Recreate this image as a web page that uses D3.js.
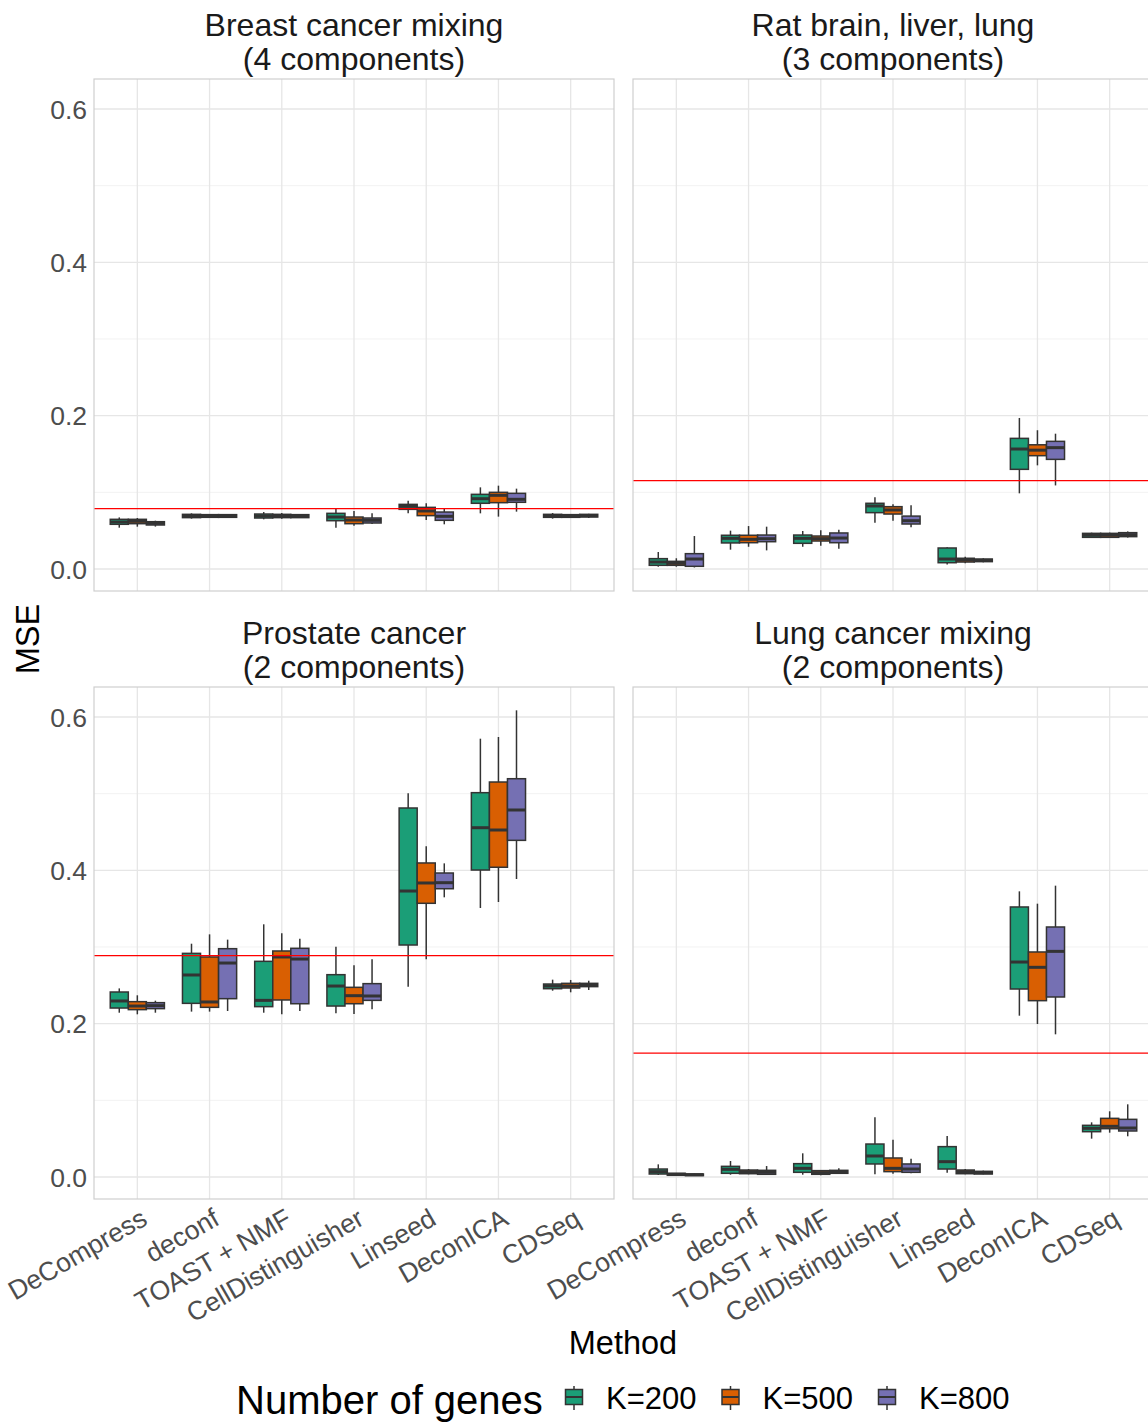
<!DOCTYPE html>
<html>
<head>
<meta charset="utf-8">
<script src="https://cdn.jsdelivr.net/npm/d3@7"></script>
<style>
  html, body { margin: 0; padding: 0; background: #ffffff; }
  svg text { font-family: "Liberation Sans", Arial, Helvetica, sans-serif; }
</style>
</head>
<body>
<svg id="chart" width="1148" height="1424"></svg>
<script>
// Deconvolution methods compared on the x axis
const methods = ["DeCompress", "deconf", "TOAST + NMF", "CellDistinguisher", "Linseed", "DeconICA", "CDSeq"];
// Number of genes used (one box per setting)
const geneSets = ["K=200", "K=500", "K=800"];
const geneColors = ["#1B9E77", "#D95F02", "#7570B3"];

const panelTitles = [
  ["Breast cancer mixing", "(4 components)"],
  ["Rat brain, liver, lung", "(3 components)"],
  ["Prostate cancer", "(2 components)"],
  ["Lung cancer mixing", "(2 components)"]
];

const yTicks = [0, 0.2, 0.4, 0.6];
const yMinorTicks = [0.1, 0.3, 0.5];

// Reference MSE level drawn as a red horizontal line in each panel
const referenceMSE = [0.0787, 0.1152, 0.2887, 0.1617];

// Box statistics per method, per gene setting: [lower whisker, Q1, median, Q3, upper whisker]
const breastStats = [
  [[0.0539, 0.0583, 0.0613, 0.0648, 0.0673], [0.0552, 0.0591, 0.0622, 0.0648, 0.0665], [0.0553, 0.0574, 0.0596, 0.0617, 0.0630]],
  [[0.0657, 0.0670, 0.0691, 0.0713, 0.0726], [0.0665, 0.0674, 0.0691, 0.0709, 0.0717], [0.0665, 0.0674, 0.0691, 0.0709, 0.0717]],
  [[0.0648, 0.0665, 0.0691, 0.0717, 0.0743], [0.0657, 0.0670, 0.0691, 0.0713, 0.0730], [0.0665, 0.0670, 0.0687, 0.0709, 0.0717]],
  [[0.0539, 0.0630, 0.0678, 0.0726, 0.0783], [0.0565, 0.0591, 0.0639, 0.0678, 0.0757], [0.0587, 0.0600, 0.0635, 0.0665, 0.0726]],
  [[0.0726, 0.0778, 0.0817, 0.0843, 0.0891], [0.0639, 0.0696, 0.0757, 0.0804, 0.0857], [0.0583, 0.0635, 0.0687, 0.0743, 0.0787]],
  [[0.0726, 0.0857, 0.0917, 0.0974, 0.1065], [0.0683, 0.0865, 0.0961, 0.1000, 0.1087], [0.0748, 0.0870, 0.0909, 0.0987, 0.1048]],
  [[0.0657, 0.0674, 0.0696, 0.0713, 0.0730], [0.0665, 0.0674, 0.0691, 0.0709, 0.0717], [0.0665, 0.0678, 0.0696, 0.0713, 0.0720]]
];

const ratStats = [
  [[0.0030, 0.0048, 0.0091, 0.0135, 0.0222], [0.0030, 0.0048, 0.0074, 0.0100, 0.0140], [0.0020, 0.0035, 0.0130, 0.0200, 0.0430]],
  [[0.0252, 0.0340, 0.0400, 0.0440, 0.0500], [0.0290, 0.0343, 0.0387, 0.0440, 0.0560], [0.0243, 0.0356, 0.0395, 0.0443, 0.0552]],
  [[0.0290, 0.0335, 0.0400, 0.0443, 0.0496], [0.0304, 0.0365, 0.0396, 0.0430, 0.0504], [0.0265, 0.0343, 0.0404, 0.0470, 0.0513]],
  [[0.0604, 0.0735, 0.0822, 0.0857, 0.0935], [0.0630, 0.0717, 0.0770, 0.0813, 0.0843], [0.0543, 0.0587, 0.0630, 0.0690, 0.0830]],
  [[0.0060, 0.0082, 0.0130, 0.0274, 0.0283], [0.0074, 0.0091, 0.0117, 0.0140, 0.0160], [0.0087, 0.0096, 0.0113, 0.0130, 0.0140]],
  [[0.0987, 0.1300, 0.1565, 0.1704, 0.1970], [0.1352, 0.1478, 0.1550, 0.1620, 0.1810], [0.1090, 0.1430, 0.1583, 0.1665, 0.1765]],
  [[0.0404, 0.0413, 0.0440, 0.0465, 0.0474], [0.0404, 0.0413, 0.0440, 0.0465, 0.0474], [0.0410, 0.0422, 0.0448, 0.0474, 0.0490]]
];

const prostateStats = [
  [[0.2143, 0.2204, 0.2296, 0.2413, 0.2460], [0.2122, 0.2183, 0.2230, 0.2287, 0.2370], [0.2143, 0.2196, 0.2235, 0.2274, 0.2300]],
  [[0.2157, 0.2265, 0.2635, 0.2917, 0.3043], [0.2157, 0.2213, 0.2283, 0.2870, 0.3165], [0.2165, 0.2326, 0.2791, 0.2978, 0.3096]],
  [[0.2143, 0.2222, 0.2304, 0.2813, 0.3296], [0.2122, 0.2309, 0.2870, 0.2948, 0.3178], [0.2165, 0.2260, 0.2843, 0.2983, 0.3109]],
  [[0.2135, 0.2230, 0.2491, 0.2639, 0.3004], [0.2126, 0.2260, 0.2365, 0.2474, 0.2761], [0.2187, 0.2304, 0.2361, 0.2522, 0.2839]],
  [[0.2483, 0.3026, 0.3730, 0.4813, 0.5004], [0.2839, 0.3570, 0.3835, 0.4096, 0.4313], [0.3648, 0.3760, 0.3839, 0.3965, 0.4091]],
  [[0.3509, 0.4004, 0.4556, 0.5013, 0.5717], [0.3587, 0.4040, 0.4526, 0.5152, 0.5739], [0.3887, 0.4391, 0.4787, 0.5195, 0.6087]],
  [[0.2430, 0.2456, 0.2491, 0.2517, 0.2574], [0.2409, 0.2465, 0.2491, 0.2526, 0.2570], [0.2439, 0.2483, 0.2504, 0.2526, 0.2560]]
];

const lungStats = [
  [[0.0026, 0.0039, 0.0070, 0.0104, 0.0165], [0.0018, 0.0022, 0.0035, 0.0048, 0.0052], [0.0013, 0.0018, 0.0030, 0.0039, 0.0043]],
  [[0.0030, 0.0048, 0.0100, 0.0139, 0.0209], [0.0035, 0.0043, 0.0070, 0.0091, 0.0104], [0.0026, 0.0035, 0.0061, 0.0087, 0.0143]],
  [[0.0030, 0.0061, 0.0113, 0.0174, 0.0309], [0.0022, 0.0035, 0.0057, 0.0083, 0.0091], [0.0039, 0.0048, 0.0070, 0.0087, 0.0113]],
  [[0.0035, 0.0170, 0.0274, 0.0430, 0.0778], [0.0043, 0.0070, 0.0113, 0.0248, 0.0487], [0.0048, 0.0061, 0.0104, 0.0170, 0.0239]],
  [[0.0057, 0.0104, 0.0200, 0.0396, 0.0535], [0.0035, 0.0043, 0.0070, 0.0091, 0.0104], [0.0035, 0.0039, 0.0057, 0.0074, 0.0083]],
  [[0.2104, 0.2452, 0.2804, 0.3522, 0.3726], [0.1996, 0.2300, 0.2735, 0.2935, 0.3565], [0.1861, 0.2348, 0.2943, 0.3261, 0.3800]],
  [[0.0500, 0.0591, 0.0635, 0.0674, 0.0713], [0.0578, 0.0630, 0.0661, 0.0765, 0.0857], [0.0531, 0.0600, 0.0639, 0.0752, 0.0948]]
];

const panelStats = [breastStats, ratStats, prostateStats, lungStats];

// ---- layout ----
const svg = d3.select("#chart");
const panelW = 520, panelH = 512;
const panelOrigins = [[94, 79], [633, 79], [94, 687], [633, 687]];

const x = d3.scalePoint().domain(methods).range([0, panelW]).padding(0.6);
const y = d3.scaleLinear().domain([-22 / 766.67, 490 / 766.67]).range([panelH, 0]);
const boxW = x.step() * 0.75 / geneSets.length;

const defs = svg.append("defs");

panelStats.forEach((stats, p) => {
  const [px, py] = panelOrigins[p];
  const g = svg.append("g").attr("transform", `translate(${px},${py})`);

  defs.append("clipPath").attr("id", "clip" + p)
    .append("rect").attr("width", panelW).attr("height", panelH);

  const inner = g.append("g").attr("clip-path", `url(#clip${p})`);

  // grid
  inner.selectAll(".gmin").data(yMinorTicks).join("line")
    .attr("x1", 0).attr("x2", panelW)
    .attr("y1", d => y(d)).attr("y2", d => y(d))
    .attr("stroke", "#f0f0f0").attr("stroke-width", 0.9);
  inner.selectAll(".gmaj").data(yTicks).join("line")
    .attr("x1", 0).attr("x2", panelW)
    .attr("y1", d => y(d)).attr("y2", d => y(d))
    .attr("stroke", "#e6e6e6").attr("stroke-width", 1.3);
  inner.selectAll(".gx").data(methods).join("line")
    .attr("x1", d => x(d)).attr("x2", d => x(d))
    .attr("y1", 0).attr("y2", panelH)
    .attr("stroke", "#e6e6e6").attr("stroke-width", 1.3);

  // boxes
  stats.forEach((byGene, mi) => {
    byGene.forEach((s, gi) => {
      const cx = x(methods[mi]) + (gi - 1) * boxW;
      const [lo, q1, med, q3, hi] = s;
      const bg = inner.append("g");
      bg.append("line").attr("x1", cx).attr("x2", cx)
        .attr("y1", y(hi)).attr("y2", y(q3))
        .attr("stroke", "#333333").attr("stroke-width", 1.5);
      bg.append("line").attr("x1", cx).attr("x2", cx)
        .attr("y1", y(q1)).attr("y2", y(lo))
        .attr("stroke", "#333333").attr("stroke-width", 1.5);
      bg.append("rect")
        .attr("x", cx - boxW / 2).attr("width", boxW)
        .attr("y", y(q3)).attr("height", Math.max(0.5, y(q1) - y(q3)))
        .attr("fill", geneColors[gi])
        .attr("stroke", "#333333").attr("stroke-width", 1.5);
      bg.append("line").attr("x1", cx - boxW / 2).attr("x2", cx + boxW / 2)
        .attr("y1", y(med)).attr("y2", y(med))
        .attr("stroke", "#333333").attr("stroke-width", 3);
    });
  });

  // reference line
  inner.append("line")
    .attr("x1", 0).attr("x2", panelW)
    .attr("y1", y(referenceMSE[p])).attr("y2", y(referenceMSE[p]))
    .attr("stroke", "#ff0000").attr("stroke-width", 1.3);

  // border
  g.append("rect").attr("width", panelW).attr("height", panelH)
    .attr("fill", "none").attr("stroke", "#cfcfcf").attr("stroke-width", 1.2);

  // strip title
  panelTitles[p].forEach((t, li) => {
    g.append("text").attr("x", panelW / 2).attr("y", -43 + li * 34)
      .attr("text-anchor", "middle").attr("font-size", 32)
      .attr("fill", "#1a1a1a").text(t);
  });

  // y axis labels on left column
  if (p % 2 === 0) {
    g.selectAll(".yt").data(yTicks).join("text")
      .attr("x", -7).attr("y", d => y(d))
      .attr("dy", "0.36em")
      .attr("text-anchor", "end").attr("font-size", 26.5)
      .attr("fill", "#4d4d4d")
      .text(d => d3.format(".1f")(d));
  }

  // x axis labels on bottom row
  if (p >= 2) {
    g.selectAll(".xt").data(methods).join("text")
      .attr("transform", d => `translate(${x(d) + 2},${panelH + 8}) rotate(-30)`)
      .attr("dy", "0.72em")
      .attr("text-anchor", "end").attr("font-size", 26.5)
      .attr("fill", "#4d4d4d")
      .text(d => d);
  }
});

// axis titles
svg.append("text")
  .attr("transform", "translate(39,639) rotate(-90)")
  .attr("text-anchor", "middle").attr("font-size", 32.5)
  .attr("fill", "#000").text("MSE");
svg.append("text")
  .attr("x", 623).attr("y", 1354)
  .attr("text-anchor", "middle").attr("font-size", 32.5)
  .attr("fill", "#000").text("Method");

// legend
const legend = svg.append("g");
legend.append("text").attr("x", 236).attr("y", 1414)
  .attr("font-size", 40).attr("fill", "#000").text("Number of genes");
const keyX = [574, 730.5, 887];
geneSets.forEach((k, i) => {
  const kx = keyX[i], ky = 1397;
  const kg = legend.append("g");
  kg.append("line").attr("x1", kx).attr("x2", kx).attr("y1", ky - 11).attr("y2", ky + 13)
    .attr("stroke", "#333333").attr("stroke-width", 1.5);
  kg.append("rect").attr("x", kx - 8.5).attr("y", ky - 7.5).attr("width", 17).attr("height", 15)
    .attr("fill", geneColors[i]).attr("stroke", "#333333").attr("stroke-width", 1.5);
  kg.append("line").attr("x1", kx - 8.5).attr("x2", kx + 8.5).attr("y1", ky).attr("y2", ky)
    .attr("stroke", "#333333").attr("stroke-width", 2);
  legend.append("text").attr("x", kx + 32).attr("y", 1409)
    .attr("font-size", 31).attr("fill", "#000").text(k);
});
</script>
</body>
</html>
